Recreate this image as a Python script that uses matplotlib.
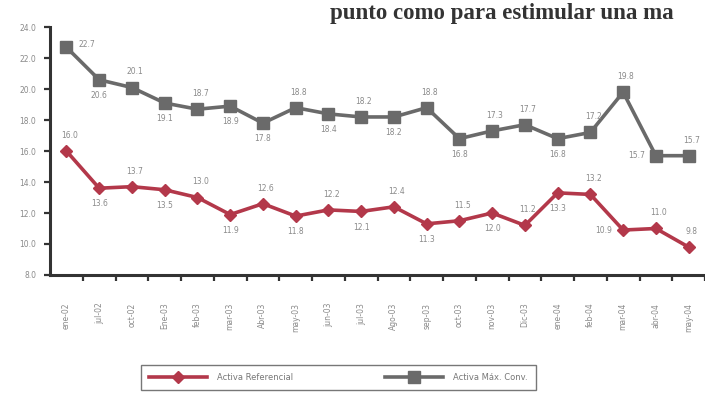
"""
Tasas activas: referencial vs maxima convencional
"""

import matplotlib.pyplot as plt

# ---------- Data ----------
meses = ["ene-02", "jul-02", "oct-02", "Ene-03", "feb-03", "mar-03", "Abr-03",
         "may-03", "jun-03", "jul-03", "Ago-03", "sep-03", "oct-03", "nov-03",
         "Dic-03", "ene-04", "feb-04", "mar-04", "abr-04", "may-04"]

activa_ref = [16.0, 13.6, 13.7, 13.5, 13.0, 11.9, 12.6, 11.8, 12.2, 12.1,
              12.4, 11.3, 11.5, 12.0, 11.2, 13.3, 13.2, 10.9, 11.0, 9.8]

activa_max = [22.7, 20.6, 20.1, 19.1, 18.7, 18.9, 17.8, 18.8, 18.4, 18.2,
              18.2, 18.8, 16.8, 17.3, 17.7, 16.8, 17.2, 19.8, 15.7, 15.7]

y_ticks = [8.0, 10.0, 12.0, 14.0, 16.0, 18.0, 20.0, 22.0, 24.0]

# where each data label sits: a = above, b = below, l = left, r = right
ref_label_pos = ["a", "b", "a", "b", "a", "b", "a", "b", "a", "b",
                 "a", "b", "a", "b", "a", "b", "a", "l", "a", "a"]
max_label_pos = ["r", "b", "a", "b", "a", "b", "b", "a", "b", "a",
                 "b", "a", "b", "a", "a", "b", "a", "a", "l", "a"]

OFFSETS = {"a": (2, 8, "center", "bottom"),
           "b": (0, -8, "center", "top"),
           "l": (-8, 0, "right", "center"),
           "r": (9, 2, "left", "center")}

RED = "#b3384a"
GREY = "#6a6a6a"


def add_labels(ax, xs, ys, positions):
    for x, y, p in zip(xs, ys, positions):
        dx, dy, ha, va = OFFSETS[p]
        ax.annotate(f"{y:.1f}", (x, y), xytext=(dx, dy),
                    textcoords="offset points", ha=ha, va=va,
                    fontsize=5.5, color="#8a8a8a")


# ---------- Plot ----------
fig = plt.figure(figsize=(7.05, 4.11), dpi=100)
ax = fig.add_axes([0.071, 0.331, 0.929, 0.603])

xs = list(range(len(meses)))
ax.plot(xs, activa_ref, color=RED, lw=2.6, marker="D", markersize=6,
        label="Activa Referencial")
ax.plot(xs, activa_max, color=GREY, lw=2.6, marker="s", markersize=9,
        label="Activa Máx. Conv.")

add_labels(ax, xs, activa_ref, ref_label_pos)
add_labels(ax, xs, activa_max, max_label_pos)

ax.set_xlim(-0.5, len(meses) - 0.5)
ax.set_ylim(8.0, 24.0)
ax.set_yticks(y_ticks)
ax.set_yticklabels([f"{v:.1f}" for v in y_ticks], fontsize=5.5, color="#8a8a8a")

# category labels centred, tick marks between categories
ax.set_xticks(xs)
ax.set_xticklabels(meses, rotation=90, fontsize=5.5, color="#8a8a8a")
ax.tick_params(axis="x", length=0, pad=20)
ax.set_xticks([i + 0.5 for i in xs], minor=True)
ax.tick_params(axis="x", which="minor", length=4, width=1.6, color="#333333")
ax.tick_params(axis="y", length=4, width=1.6, color="#333333", pad=6)

for side in ["top", "right"]:
    ax.spines[side].set_visible(False)
for side in ["left", "bottom"]:
    ax.spines[side].set_linewidth(2.2)
    ax.spines[side].set_color("#333333")

leg = fig.legend(loc="lower center", bbox_to_anchor=(0.48, 0.04), ncol=2,
                 fontsize=6, frameon=True, fancybox=False, edgecolor="#555555",
                 handlelength=7, columnspacing=11, labelcolor="#777777",
                 borderpad=1.0, handletextpad=1.2)
leg.get_frame().set_linewidth(1.0)

# fragment of the page text above the chart
fig.text(0.468, 0.968, "punto como para estimular una ma", fontsize=16.5,
         family="Liberation Serif", weight="bold", color="#333333",
         ha="left", va="center")

plt.savefig("out.png", dpi=100)
plt.close()
